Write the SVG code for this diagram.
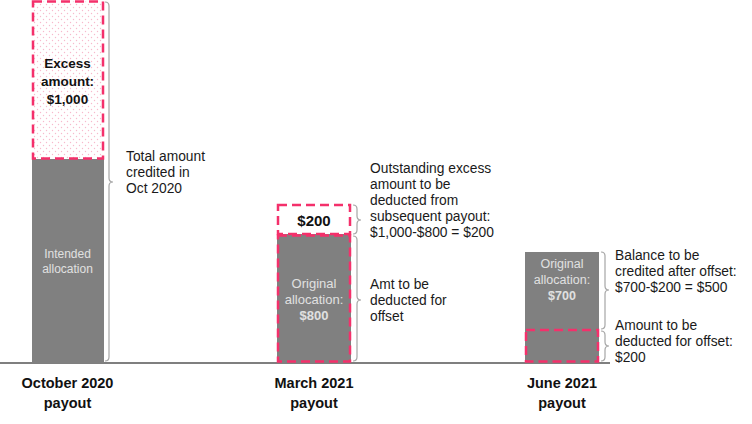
<svg xmlns="http://www.w3.org/2000/svg" width="752" height="424" viewBox="0 0 752 424">
<defs>
<pattern id="dots" width="6" height="6" patternUnits="userSpaceOnUse">
<rect width="6" height="6" fill="#ffffff"/>
<circle cx="1.5" cy="1.5" r="0.7" fill="#f7b9cc"/>
<circle cx="4.5" cy="4.5" r="0.7" fill="#f7b9cc"/>
</pattern>
</defs>
<style>
.bar{fill:#808080}
.dash{fill:none;stroke:#f4306b;stroke-width:2.5;stroke-dasharray:9 5}
.brace{fill:none;stroke:#a6a6a6;stroke-width:1.2}
.t{font-family:"Liberation Sans",Arial,sans-serif;font-size:13.8px;fill:#1a1a1a}
.in{font-family:"Liberation Sans",Arial,sans-serif;fill:#e0e0e0;text-anchor:middle}
.lb{font-family:"Liberation Sans",Arial,sans-serif;font-weight:bold;font-size:14.5px;fill:#111;text-anchor:middle}
.bb{font-family:"Liberation Sans",Arial,sans-serif;font-weight:bold;fill:#111;text-anchor:middle}
</style>
<line x1="0" y1="363" x2="610" y2="363" stroke="#7f7f7f" stroke-width="2"/>
<g id="oct">
<rect x="32" y="1.5" width="71" height="157" fill="url(#dots)"/>
<rect class="bar" x="32" y="159" width="72" height="204"/>
<rect class="dash" x="33" y="1.5" width="70" height="157"/>
<text class="bb" font-size="13.5" x="67.5" y="68">Excess</text>
<text class="bb" font-size="13.5" x="67.5" y="86">amount:</text>
<text class="bb" font-size="13.5" x="67.5" y="104">$1,000</text>
<text class="in" font-size="12" x="67.5" y="258">Intended</text>
<text class="in" font-size="12" x="67.5" y="273">allocation</text>
<text class="lb" x="67.5" y="388">October 2020</text>
<text class="lb" x="67.5" y="408">payout</text>
</g>
<g id="oct-note">
<text class="t" x="126" y="161">Total amount</text>
<text class="t" x="126" y="177">credited in</text>
<text class="t" x="126" y="193">Oct 2020</text>
</g>
<g id="mar">
<rect x="278" y="205" width="72" height="29" fill="#ffffff"/>
<rect class="bar" x="277" y="234" width="74" height="129"/>
<rect class="dash" x="278" y="205" width="72" height="29"/>
<rect class="dash" x="278" y="235.5" width="72" height="126"/>
<text class="bb" font-size="15" x="314" y="226">$200</text>
<text class="in" font-size="13" x="314" y="288">Original</text>
<text class="in" font-size="13" x="314" y="304">allocation:</text>
<text class="in" font-size="13" x="314" y="320" font-weight="bold" fill="#ffffff">$800</text>
<text class="lb" x="314" y="388">March 2021</text>
<text class="lb" x="314" y="408">payout</text>
</g>
<g id="mar-note">
<text class="t" x="370" y="173">Outstanding excess</text>
<text class="t" x="370" y="189">amount to be</text>
<text class="t" x="370" y="205">deducted from</text>
<text class="t" x="370" y="221">subsequent payout:</text>
<text class="t" x="370" y="237">$1,000-$800 = $200</text>
<text class="t" x="370" y="289">Amt to be</text>
<text class="t" x="370" y="305">deducted for</text>
<text class="t" x="370" y="321">offset</text>
</g>
<g id="jun">
<rect class="bar" x="525" y="252" width="74" height="111"/>
<rect class="dash" x="526" y="330" width="72" height="31.5"/>
<text class="in" font-size="12.5" x="562" y="268">Original</text>
<text class="in" font-size="12.5" x="562" y="284">allocation:</text>
<text class="in" font-size="12.5" x="562" y="300" font-weight="bold" fill="#ffffff">$700</text>
<text class="lb" x="562" y="388">June 2021</text>
<text class="lb" x="562" y="408">payout</text>
</g>
<g id="jun-note">
<text class="t" x="615" y="260">Balance to be</text>
<text class="t" x="615" y="276">credited after offset:</text>
<text class="t" x="615" y="292">$700-$200 = $500</text>
<text class="t" x="615" y="330">Amount to be</text>
<text class="t" x="615" y="346">deducted for offset:</text>
<text class="t" x="615" y="362">$200</text>
</g>
<g id="connectors">
<path class="brace" d="M105,2 Q109,2 109,6 L109,178 Q109,182 113,182 Q109,182 109,186 L109,357 Q109,361 105,361"/>
<path class="brace" d="M353,205 Q357,205 357,209 L357,216 Q357,220 361,220 Q357,220 357,224 L357,230 Q357,234 353,234"/>
<path class="brace" d="M353,236 Q357,236 357,240 L357,296 Q357,300 361,300 Q357,300 357,304 L357,357 Q357,361 353,361"/>
<path class="brace" d="M601,252 Q605,252 605,256 L605,286 Q605,290 609,290 Q605,290 605,294 L605,325 Q605,329 601,329"/>
<path class="brace" d="M601,331 Q605,331 605,335 L605,342 Q605,346 609,346 Q605,346 605,350 L605,357 Q605,361 601,361"/>
</g>
</svg>
